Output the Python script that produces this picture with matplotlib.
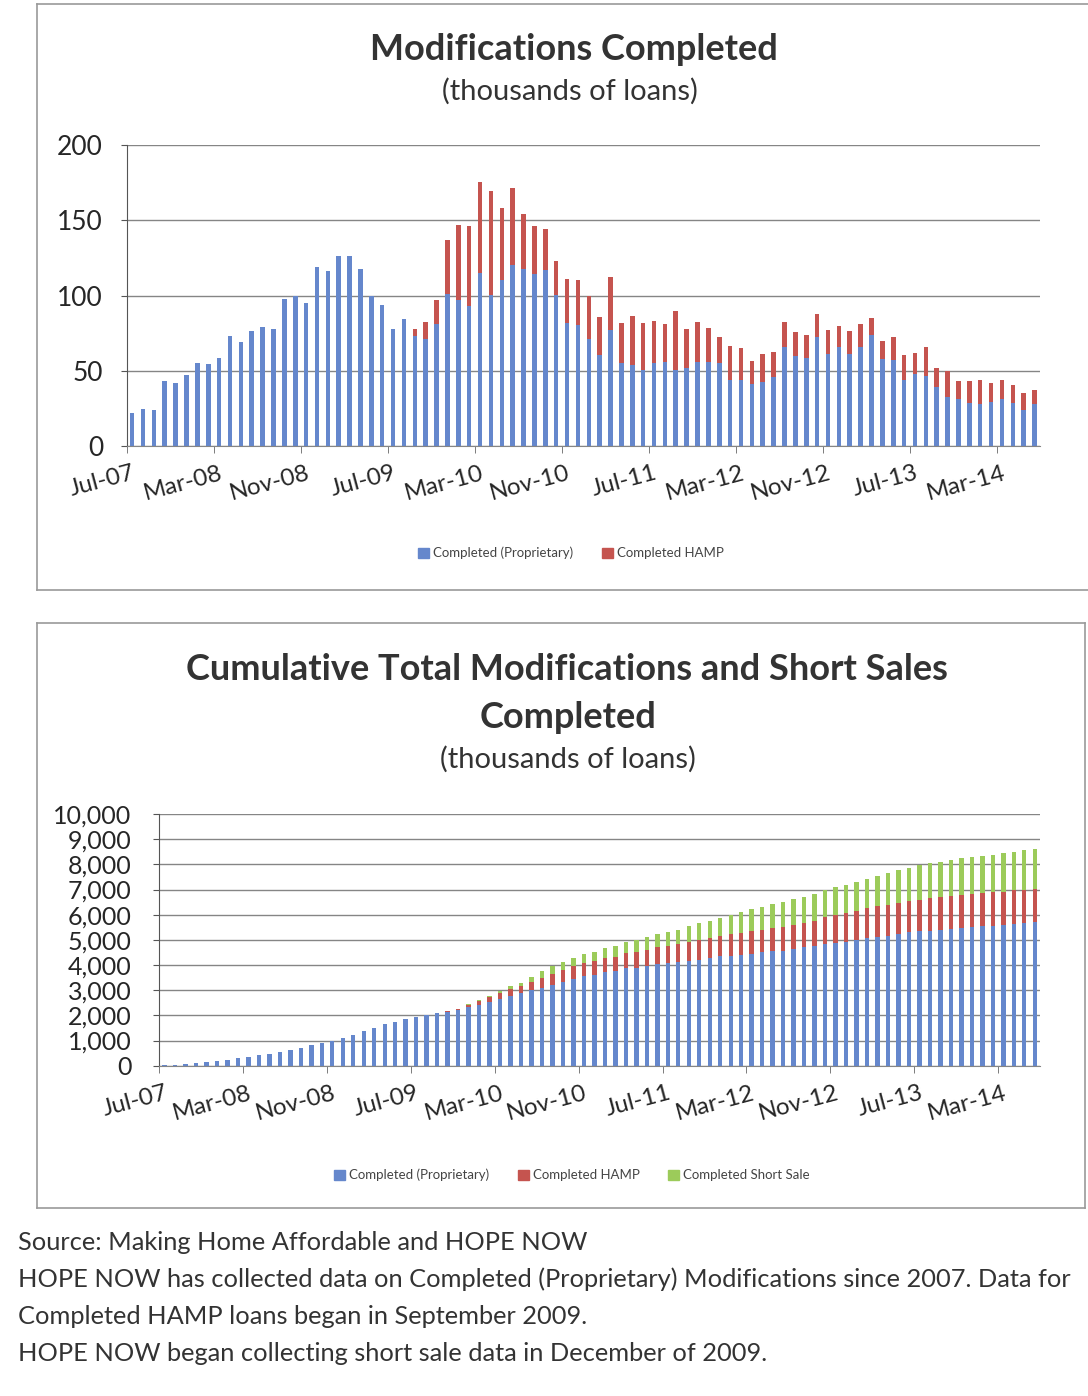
import matplotlib
matplotlib.use('Agg')
import matplotlib.pyplot as plt
from matplotlib.patches import Patch
from matplotlib.lines import Line2D
from matplotlib.ticker import FuncFormatter
import numpy as np

plt.rcParams['font.family'] = ['Lato', 'DejaVu Sans']

# ---------------- data ----------------
tick_labels = ['Jul-07', 'Mar-08', 'Nov-08', 'Jul-09', 'Mar-10', 'Nov-10',
               'Jul-11', 'Mar-12', 'Nov-12', 'Jul-13', 'Mar-14']

# Monthly completed modifications (thousands), Jul-07 .. Jun-14
monthly_proprietary = [
    21.6, 24.9, 24.2, 43.3, 41.6, 47.1, 55.3, 54.4, 58.7, 73.1,
    69.3, 76.2, 79.3, 78.0, 97.6, 99.8, 95.3, 118.9, 116.0, 126.0,
    126.0, 117.6, 99.8, 93.8, 77.8, 84.2, 73.1, 71.0, 81.0, 101.0,
    97.0, 93.0, 115.0, 100.5, 110.5, 120.5, 117.5, 114.0, 117.0, 100.5,
    81.5, 80.5, 71.0, 60.5, 77.0, 55.0, 54.0, 50.5, 55.0, 55.5,
    50.5, 52.0, 55.5, 55.5, 55.0, 44.0, 44.0, 41.5, 42.5, 46.0,
    65.5, 59.5, 58.5, 72.5, 61.0, 65.5, 61.0, 66.0, 74.0, 57.5,
    57.0, 44.0, 48.0, 46.5, 39.5, 32.5, 31.0, 28.5, 28.0, 29.5,
    31.0, 28.5, 24.0, 28.0]
monthly_hamp = [
    0, 0, 0, 0, 0, 0, 0, 0, 0, 0,
    0, 0, 0, 0, 0, 0, 0, 0, 0, 0,
    0, 0, 0, 0, 0, 0, 4.7, 11.5, 15.7, 36.0,
    50.0, 53.5, 60.5, 69.0, 47.5, 51.0, 36.5, 32.0, 27.5, 22.5,
    29.5, 29.5, 29.0, 25.5, 35.5, 27.0, 32.5, 31.0, 28.0, 25.5,
    39.5, 26.0, 27.0, 23.0, 17.5, 22.5, 21.0, 15.0, 18.5, 16.5,
    17.0, 16.0, 15.0, 15.5, 16.0, 14.5, 15.5, 15.0, 11.0, 12.0,
    15.5, 16.5, 13.5, 19.0, 12.0, 17.5, 12.5, 15.0, 16.0, 12.5,
    13.0, 12.0, 11.0, 9.0]

# Cumulative totals (thousands), Jul-07 .. Jun-14
cum_proprietary = [
    20, 45, 70, 110, 150, 200, 240, 290, 340, 410,
    480, 560, 640, 720, 810, 920, 990, 1100, 1230, 1380,
    1500, 1640, 1740, 1850, 1950, 2010, 2080, 2150, 2230, 2330,
    2430, 2520, 2640, 2780, 2880, 2990, 3080, 3200, 3330, 3440,
    3560, 3620, 3720, 3760, 3880, 3900, 3960, 4030, 4070, 4110,
    4150, 4210, 4280, 4340, 4375, 4410, 4450, 4500, 4540, 4575,
    4650, 4700, 4740, 4830, 4880, 4920, 4990, 5080, 5130, 5170,
    5240, 5310, 5340, 5370, 5400, 5440, 5480, 5510, 5540, 5570,
    5590, 5630, 5660, 5690]
cum_hamp = [
    0, 0, 0, 0, 0, 0, 0, 0, 0, 0,
    0, 0, 0, 0, 0, 0, 0, 0, 0, 0,
    0, 0, 0, 0, 0, 0, 10, 20, 40, 90,
    150, 190, 240, 260, 290, 340, 410, 450, 480, 510,
    520, 530, 550, 570, 590, 610, 650, 670, 700, 730,
    770, 800, 810, 820, 850, 870, 890, 900, 915, 930,
    950, 970, 1010, 1080, 1110, 1140, 1160, 1180, 1200, 1215,
    1225, 1235, 1260, 1275, 1285, 1300, 1310, 1315, 1320, 1325,
    1330, 1335, 1340, 1345]
cum_short_sale = [
    0, 0, 0, 0, 0, 0, 0, 0, 0, 0,
    0, 0, 0, 0, 0, 0, 0, 0, 0, 0,
    0, 0, 0, 0, 0, 0, 0, 0, 0, 20,
    40, 60, 100, 120, 130, 210, 260, 310, 320, 340,
    360, 380, 400, 420, 440, 480, 510, 530, 550, 570,
    620, 650, 670, 720, 780, 830, 880, 910, 955, 995,
    1025, 1040, 1080, 1090, 1110, 1130, 1150, 1170, 1210, 1270,
    1315, 1320, 1370, 1390, 1405, 1440, 1445, 1465, 1480, 1495,
    1530, 1535, 1550, 1560]

# ---------------- style ----------------
BLUE = '#6587cc'
RED = '#c5544f'
GREEN = '#9ccb5a'
GRID = '#858585'
TXT = '#262626'
W, H = 1088, 1396


def fx(px):
    return px / W


def fy(py):
    return 1 - py / H


fig = plt.figure(figsize=(W / 100, H / 100), dpi=100)


def style_axis(ax, n, ysize, ypad):
    ax.set_xlim(-0.5, n - 0.5)
    for s in ['top', 'right']:
        ax.spines[s].set_visible(False)
    ax.spines['left'].set_color('#555555')
    ax.spines['bottom'].set_color(GRID)
    ax.yaxis.grid(True, color=GRID, lw=1)
    ax.set_axisbelow(True)
    ax.tick_params(axis='y', direction='out', length=4, color='#555555',
                   labelsize=ysize, labelcolor=TXT, pad=ypad)
    pos = list(range(0, n, 8))
    ax.set_xticks(pos)
    ax.set_xticklabels(tick_labels[:len(pos)], rotation=15, ha='right', va='top',
                       rotation_mode='anchor', fontsize=17.5, color=TXT)
    ax.tick_params(axis='x', which='major', length=0, pad=12)
    ax.set_xticks([p - 0.5 for p in pos], minor=True)
    ax.tick_params(axis='x', which='minor', direction='out', length=5, color='#666666')


# ---------------- top chart ----------------
ax1 = fig.add_axes([fx(126.7), fy(446), fx(1040 - 126.7), (446 - 145) / H])
x1 = np.arange(len(monthly_proprietary))
ax1.bar(x1, monthly_proprietary, width=0.42, color=BLUE, zorder=2)
ax1.bar(x1, monthly_hamp, width=0.42, bottom=monthly_proprietary, color=RED, zorder=2)
ax1.set_ylim(0, 200)
ax1.set_yticks([0, 50, 100, 150, 200])
style_axis(ax1, len(x1), 19, 13)

fig.text(fx(574), fy(50), 'Modifications Completed', ha='center', va='center',
         fontsize=26, weight='bold', color='#333333')
fig.text(fx(570), fy(91), '(thousands of loans)', ha='center', va='center',
         fontsize=21, color='#333333')

fig.legend(handles=[Patch(color=BLUE, label='Completed (Proprietary)'),
                    Patch(color=RED, label='Completed HAMP')],
           loc='center', bbox_to_anchor=(fx(571), fy(553)), ncol=2, frameon=False,
           fontsize=9.5, handlelength=0.8, handleheight=0.8, handletextpad=0.3,
           columnspacing=2.2, labelcolor='#444444')

# ---------------- bottom chart ----------------
ax2 = fig.add_axes([fx(159.3), fy(1065.7), fx(1040 - 159.3), (1065.7 - 814) / H])
x2 = np.arange(len(cum_proprietary))
b1 = np.array(cum_proprietary, dtype=float)
b2 = b1 + np.array(cum_hamp, dtype=float)
ax2.bar(x2, cum_proprietary, width=0.42, color=BLUE, zorder=2)
ax2.bar(x2, cum_hamp, width=0.42, bottom=b1, color=RED, zorder=2)
ax2.bar(x2, cum_short_sale, width=0.42, bottom=b2, color=GREEN, zorder=2)
ax2.set_ylim(0, 10000)
ax2.set_yticks(range(0, 10001, 1000))
ax2.yaxis.set_major_formatter(FuncFormatter(lambda v, p: f'{int(v):,}'))
style_axis(ax2, len(x2), 18, 16)

fig.text(fx(567), fy(670), 'Cumulative Total Modifications and Short Sales',
         ha='center', va='center', fontsize=26, weight='bold', color='#333333')
fig.text(fx(568), fy(718), 'Completed', ha='center', va='center',
         fontsize=26, weight='bold', color='#333333')
fig.text(fx(568), fy(759), '(thousands of loans)', ha='center', va='center',
         fontsize=21, color='#333333')

fig.legend(handles=[Patch(color=BLUE, label='Completed (Proprietary)'),
                    Patch(color=RED, label='Completed HAMP'),
                    Patch(color=GREEN, label='Completed Short Sale')],
           loc='center', bbox_to_anchor=(fx(572), fy(1175)), ncol=3, frameon=False,
           fontsize=9.5, handlelength=0.8, handleheight=0.8, handletextpad=0.3,
           columnspacing=2.2, labelcolor='#444444')

# ---------------- frames ----------------
BOX = '#9a9a9a'
for (xa, ya, xb, yb) in [(37, 4, 37, 590), (37, 4, 1088, 4), (37, 590, 1088, 590),
                         (37, 623, 37, 1208), (37, 623, 1085, 623),
                         (37, 1208, 1085, 1208), (1085, 623, 1085, 1208)]:
    fig.add_artist(Line2D([fx(xa), fx(xb)], [fy(ya), fy(yb)],
                          transform=fig.transFigure, color=BOX, lw=1.2))

# ---------------- footnote ----------------
notes = ['Source: Making Home Affordable and HOPE NOW',
         'HOPE NOW has collected data on Completed (Proprietary) Modifications since 2007. Data for',
         'Completed HAMP loans began in September 2009.',
         'HOPE NOW began collecting short sale data in December of 2009.']
for i, line in enumerate(notes):
    fig.text(fx(18), fy(1243 + i * 36.7), line, ha='left', va='center',
             fontsize=18.3, color='#333333')

fig.savefig('out.png', dpi=100)
